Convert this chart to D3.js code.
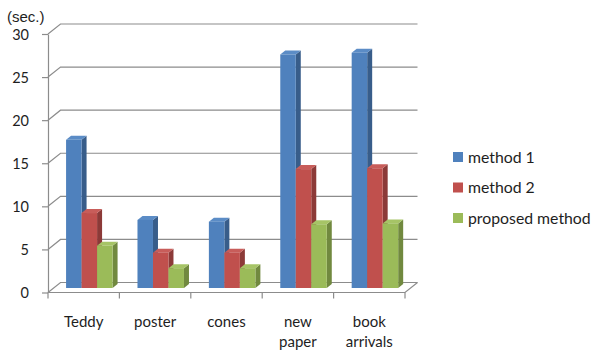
<!DOCTYPE html>
<html>
<head>
<meta charset="utf-8">
<script src="https://cdn.jsdelivr.net/npm/d3@7.9.0/dist/d3.min.js"></script>
<style>
  html, body { margin: 0; padding: 0; background: #fff; }
  svg { display: block; }
  text { font-family: Lato, 'Open Sans', sans-serif; fill: #1e1e1e; }
</style>
</head>
<body>
<svg id="chart" width="593" height="351"></svg>
<script>
const categories = ['Teddy', 'poster', 'cones', 'new paper', 'book arrivals'];
const seriesNames = ['method 1', 'method 2', 'proposed method'];
const method1 = [17.2, 7.9, 7.7, 27.1, 27.3];
const method2 = [8.7, 4.1, 4.1, 13.8, 13.9];
const proposed = [4.9, 2.3, 2.3, 7.4, 7.5];
const yTicks = [0, 5, 10, 15, 20, 25, 30];

const seriesValues = [method1, method2, proposed];
const frontColors = ['#4f81bd', '#c0504d', '#9bbb59'];
const sideColors = ['#385d8a', '#8c3a38', '#71893f'];
const topColors = ['#5b8cc6', '#c85d5a', '#a6c466'];

const svg = d3.select('#chart');

// front plane scales, depth is a shift up-right
const x = d3.scaleBand().domain(categories).range([48, 405]);
const y = d3.scaleLinear().domain([0, 30]).range([292.5, 34]);
const DX = 12.5, DY = -10;

const gridColor = '#8c8c8c';
const grid = svg.append('g').attr('fill', 'none').attr('stroke', gridColor).attr('stroke-width', 1.2);

// back wall gridlines + left wall diagonals
yTicks.forEach((t) => {
  grid.append('path')
    .attr('d', `M${x.range()[0]},${y(t)} L${x.range()[0] + DX},${y(t) + DY} L${x.range()[1] + DX},${y(t) + DY}`);
});

// floor front edge and right edge
grid.append('path')
  .attr('d', `M${x.range()[0]},${y(0)} L${x.range()[1]},${y(0)} L${x.range()[1] + DX},${y(0) + DY}`);

// y axis at the front
const yAxis = d3.axisLeft(y).tickValues(yTicks).tickSize(6).tickSizeOuter(0).tickPadding(13);
const gy = svg.append('g').attr('transform', `translate(${x.range()[0]},0)`).call(yAxis);
gy.select('.domain').attr('stroke', gridColor).attr('stroke-width', 1.2);
gy.selectAll('.tick line').attr('stroke', gridColor).attr('stroke-width', 1.2);
gy.selectAll('.tick text').style('font-size', '14.5px').attr('fill', '#1e1e1e').attr('dy', '0.36em');

// category boundary ticks
const bounds = categories.map((c) => x(c)).concat([x.range()[1]]);
grid.selectAll('.ctick').data(bounds).join('line')
  .attr('x1', (d) => d).attr('x2', (d) => d)
  .attr('y1', y(0)).attr('y2', y(0) + 6);

// category labels
const labels = svg.append('g');
categories.forEach((c) => {
  const t = labels.append('text')
    .attr('x', x(c) + x.bandwidth() / 2)
    .attr('text-anchor', 'middle')
    .style('font-size', '15px');
  c.split(' ').forEach((w, i) => {
    t.append('tspan').attr('x', x(c) + x.bandwidth() / 2).attr('y', 327 + i * 19.5).text(w);
  });
});

// bars
const xs = d3.scaleBand().domain(seriesNames).range([0, 46.5]);
const pos = 0.45, depth = 0.4;
const ox = pos * DX, oy = pos * DY;
const bx = depth * DX, by = depth * DY;

categories.forEach((c, ci) => {
  const g0 = x(c) + (x.bandwidth() - 46.5) / 2 + ox;
  seriesNames.forEach((s, si) => {
    const v = seriesValues[si][ci];
    const x0 = g0 + xs(s), x1 = x0 + xs.bandwidth();
    const yb = y(0) + oy, yt = y(v) + oy;
    svg.append('path').attr('fill', sideColors[si])
      .attr('d', `M${x1},${yb} L${x1 + bx},${yb + by} L${x1 + bx},${yt + by} L${x1},${yt} Z`);
    svg.append('path').attr('fill', topColors[si])
      .attr('d', `M${x0},${yt} L${x0 + bx},${yt + by} L${x1 + bx},${yt + by} L${x1},${yt} Z`);
    svg.append('rect').attr('fill', frontColors[si])
      .attr('x', x0).attr('y', yt).attr('width', x1 - x0).attr('height', yb - yt);
  });
});

// unit label
svg.append('text').attr('x', 7).attr('y', 22)
  .style('font-family', "'Liberation Sans', Arial, sans-serif").style('font-size', '15px')
  .text('(sec.)');

// legend
const legend = svg.append('g');
seriesNames.forEach((s, i) => {
  const ly = 157 + i * 30.5;
  legend.append('rect').attr('x', 453).attr('y', ly - 5).attr('width', 10).attr('height', 10).attr('fill', frontColors[i]);
  legend.append('text').attr('x', 468).attr('y', ly).attr('dy', '0.35em').style('font-size', '15.8px').text(s);
});
</script>
</body>
</html>
